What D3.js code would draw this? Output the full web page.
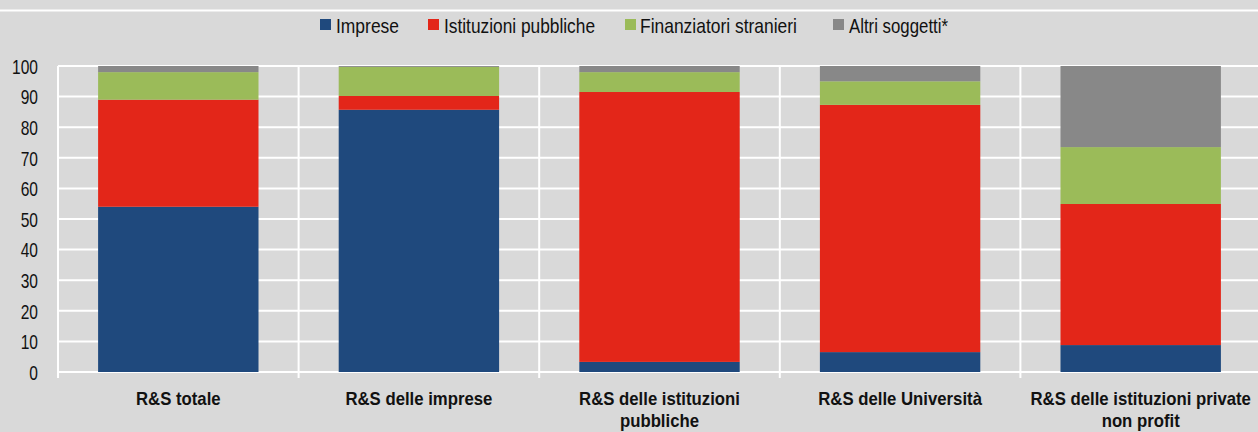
<!DOCTYPE html>
<html>
<head>
<meta charset="utf-8">
<script src="https://cdn.jsdelivr.net/npm/d3@7"></script>
<style>
  html, body { margin: 0; padding: 0; background: #d9d9d9; }
  svg { display: block; font-family: 'Liberation Sans', Arial, sans-serif; }
</style>
</head>
<body>
<svg id="chart" width="1258" height="432"></svg>
<script>
const categories = [
  'R&S totale',
  'R&S delle imprese',
  'R&S delle istituzioni pubbliche',
  'R&S delle Università',
  'R&S delle istituzioni private non profit'
];
const seriesNames = ['Imprese', 'Istituzioni pubbliche', 'Finanziatori stranieri', 'Altri soggetti*'];
const imprese = [54.0, 85.7, 3.3, 6.5, 8.8];
const istituzioni = [35.0, 4.5, 88.2, 80.8, 46.1];
const stranieri = [9.0, 9.5, 6.5, 7.7, 18.6];
const altri = [2.0, 0.3, 2.0, 5.0, 26.5];
const yTicks = [0, 10, 20, 30, 40, 50, 60, 70, 80, 90, 100];
const colours = ['#1f497d', '#e32619', '#9bbb59', '#888888'];

const width = 1258, height = 432;
const margins = { left: 58, right: -3, top: 66, bottom: 60 };

const vis = d3.select('#chart');

// the original uses a narrow-ish font, squeeze text horizontally
function squeeze(sel, factor) {
  sel.each(function () {
    const w = this.getComputedTextLength();
    d3.select(this)
      .attr('textLength', w * factor)
      .attr('lengthAdjust', 'spacingAndGlyphs');
  });
}

const rows = categories.map((c, i) => ({
  cat: c,
  'Imprese': imprese[i],
  'Istituzioni pubbliche': istituzioni[i],
  'Finanziatori stranieri': stranieri[i],
  'Altri soggetti*': altri[i]
}));
const stacked = d3.stack().keys(seriesNames)(rows);

const xScale = d3.scaleBand()
    .domain(categories)
    .range([margins.left, width - margins.right])
    .paddingInner(1 / 3)
    .paddingOuter(1 / 6),
  yScale = d3.scaleLinear()
    .domain([0, 100])
    .range([height - margins.bottom, margins.top]);

// top white rule
vis.append('line')
  .attr('x1', 0).attr('x2', width)
  .attr('y1', 10.5).attr('y2', 10.5)
  .attr('stroke', '#fff').attr('stroke-width', 2);

// horizontal gridlines
vis.append('g')
  .selectAll('line')
  .data(yTicks)
  .join('line')
  .attr('x1', margins.left).attr('x2', width)
  .attr('y1', d => yScale(d)).attr('y2', d => yScale(d))
  .attr('stroke', '#fff').attr('stroke-width', 2);

// vertical separators between categories
const step = xScale.step();
const seps = d3.range(categories.length + 1).map(i => margins.left + i * step);
vis.append('g')
  .selectAll('line')
  .data(seps)
  .join('line')
  .attr('x1', d => d).attr('x2', d => d)
  .attr('y1', yScale(100)).attr('y2', yScale(0) + 6)
  .attr('stroke', '#fff').attr('stroke-width', 2);

// bars
vis.append('g')
  .selectAll('g')
  .data(stacked)
  .join('g')
  .attr('fill', (d, i) => colours[i])
  .selectAll('rect')
  .data(d => d)
  .join('rect')
  .attr('x', d => xScale(d.data.cat))
  .attr('width', xScale.bandwidth())
  .attr('y', d => yScale(d[1]))
  .attr('height', d => yScale(d[0]) - yScale(d[1]));

// y axis labels
const yAxisG = vis.append('g')
  .attr('transform', 'translate(' + margins.left + ',0)')
  .call(d3.axisLeft(yScale).tickValues(yTicks).tickSize(0).tickPadding(20));
yAxisG.select('.domain').remove();
yAxisG.selectAll('text')
  .attr('font-size', 21)
  .attr('dy', '0.35em')
  .attr('font-family', "'Liberation Sans', Arial, sans-serif")
  .attr('fill', '#111')
  .call(squeeze, 0.74);

// x axis labels
const xAxisG = vis.append('g')
  .attr('transform', 'translate(0,' + yScale(0) + ')')
  .call(d3.axisBottom(xScale).tickSize(0).tickPadding(0));
xAxisG.select('.domain').remove();
xAxisG.selectAll('text')
  .attr('font-size', 18)
  .attr('font-weight', 'bold')
  .attr('font-family', "'Liberation Sans', Arial, sans-serif")
  .attr('fill', '#111')
  .attr('y', 33)
  .each(function (d) {
    const t = d3.select(this);
    let lines = [d];
    if (d === 'R&S delle istituzioni pubbliche') lines = ['R&S delle istituzioni', 'pubbliche'];
    if (d === 'R&S delle istituzioni private non profit') lines = ['R&S delle istituzioni private', 'non profit'];
    t.text(null).attr('dy', null);
    lines.forEach((l, i) => {
      t.append('tspan').attr('x', 0).attr('y', 33 + i * 22.5).text(l);
    });
  })
  .attr('transform', 'scale(0.93,1)');

// legend
const legendX = [320, 428, 625, 833];
const legendW = [63, 151, 157, 99];
const legend = vis.append('g')
  .selectAll('g')
  .data(seriesNames)
  .join('g')
  .attr('transform', (d, i) => 'translate(' + legendX[i] + ',0)');
legend.append('rect')
  .attr('x', 0).attr('y', 19)
  .attr('width', 11).attr('height', 11)
  .attr('fill', (d, i) => colours[i]);
legend.append('text')
  .attr('x', (d, i) => (i === 2 ? 15 : 16)).attr('y', 33)
  .attr('font-size', 21)
  .attr('fill', '#111')
  .attr('textLength', (d, i) => legendW[i])
  .attr('lengthAdjust', 'spacingAndGlyphs')
  .text(d => d);
</script>
</body>
</html>
